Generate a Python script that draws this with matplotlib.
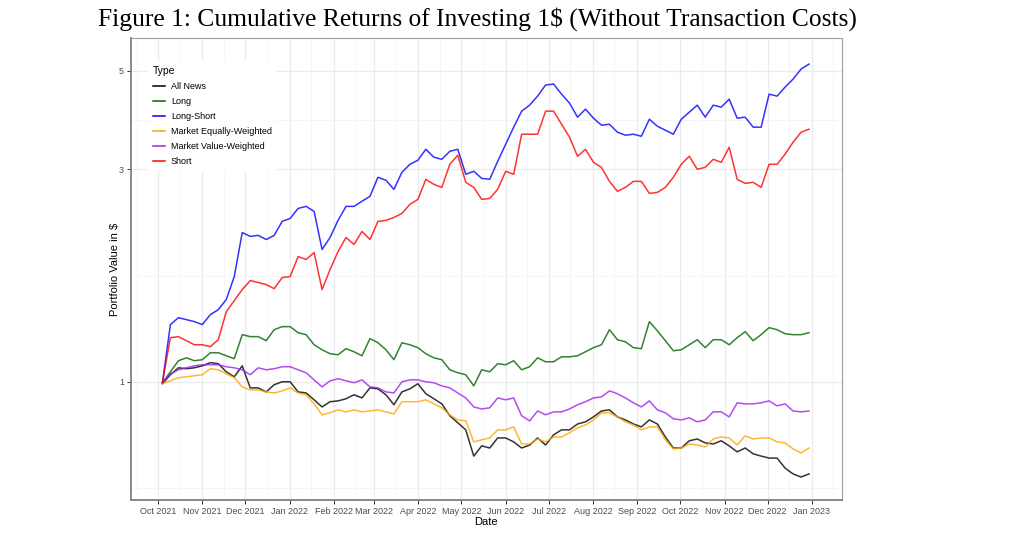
import matplotlib
matplotlib.use("Agg")
import matplotlib.pyplot as plt
import matplotlib.dates as mdates
import pandas as pd
import numpy as np

# dates of the sampled points (read every ~8 px along the x axis)
dates = pd.date_range("2021-10-04", "2022-12-30", periods=82)

all_news = [
    0.990, 1.037, 1.075, 1.070, 1.075, 1.086, 1.104, 1.098, 1.053, 1.026,
    1.086, 0.969, 0.969, 0.949, 0.985, 1.000, 1.000, 0.949, 0.944, 0.911,
    0.878, 0.902, 0.906, 0.916, 0.935, 0.920, 0.969, 0.964, 0.935, 0.888,
    0.949, 0.964, 0.990, 0.940, 0.916, 0.892, 0.839, 0.809, 0.780, 0.681,
    0.718, 0.710, 0.748, 0.748, 0.733, 0.710, 0.721, 0.748, 0.721, 0.760,
    0.780, 0.780, 0.804, 0.813, 0.834, 0.860, 0.865, 0.834, 0.821, 0.804,
    0.792, 0.821, 0.804, 0.752, 0.710, 0.710, 0.737, 0.744, 0.729, 0.725,
    0.737, 0.718, 0.696, 0.710, 0.689, 0.681, 0.674, 0.674, 0.640, 0.621,
    0.611, 0.621,
]
long_ = [
    0.995, 1.053, 1.115, 1.132, 1.115, 1.121, 1.162, 1.162, 1.144, 1.127,
    1.276, 1.263, 1.263, 1.237, 1.309, 1.330, 1.330, 1.289, 1.276, 1.211,
    1.180, 1.156, 1.150, 1.187, 1.168, 1.144, 1.250, 1.224, 1.180, 1.121,
    1.224, 1.211, 1.193, 1.156, 1.132, 1.121, 1.064, 1.048, 1.037, 0.979,
    1.064, 1.053, 1.098, 1.092, 1.115, 1.064, 1.081, 1.132, 1.109, 1.109,
    1.138, 1.138, 1.144, 1.168, 1.193, 1.211, 1.309, 1.243, 1.230, 1.193,
    1.187, 1.365, 1.302, 1.237, 1.174, 1.180, 1.211, 1.243, 1.193, 1.243,
    1.243, 1.211, 1.256, 1.296, 1.237, 1.276, 1.323, 1.309, 1.282, 1.276,
    1.276, 1.289,
]
long_short = [
    0.995, 1.344, 1.393, 1.379, 1.365, 1.344, 1.415, 1.452, 1.530, 1.723,
    2.164, 2.121, 2.132, 2.087, 2.132, 2.292, 2.327, 2.451, 2.477, 2.414,
    1.982, 2.109, 2.304, 2.477, 2.477, 2.543, 2.609, 2.879, 2.835, 2.705,
    2.954, 3.079, 3.144, 3.328, 3.194, 3.160, 3.293, 3.328, 2.924, 2.970,
    2.863, 2.849, 3.127, 3.415, 3.731, 4.053, 4.181, 4.381, 4.639, 4.663,
    4.426, 4.224, 3.929, 4.095, 3.908, 3.769, 3.788, 3.635, 3.579, 3.597,
    3.560, 3.888, 3.749, 3.673, 3.597, 3.888, 4.032, 4.181, 3.929, 4.181,
    4.138, 4.313, 3.908, 3.929, 3.731, 3.731, 4.426, 4.381, 4.589, 4.783,
    5.037, 5.170,
]
market_equal = [
    0.990, 1.005, 1.021, 1.026, 1.032, 1.037, 1.070, 1.064, 1.042, 1.021,
    0.974, 0.959, 0.959, 0.949, 0.944, 0.954, 0.969, 0.944, 0.935, 0.892,
    0.843, 0.852, 0.865, 0.856, 0.865, 0.856, 0.860, 0.865, 0.856, 0.847,
    0.902, 0.902, 0.902, 0.911, 0.892, 0.874, 0.843, 0.821, 0.817, 0.733,
    0.741, 0.748, 0.780, 0.780, 0.792, 0.725, 0.725, 0.744, 0.733, 0.752,
    0.752, 0.768, 0.788, 0.800, 0.821, 0.852, 0.852, 0.834, 0.813, 0.800,
    0.780, 0.792, 0.792, 0.741, 0.707, 0.710, 0.725, 0.721, 0.714, 0.744,
    0.752, 0.748, 0.721, 0.756, 0.744, 0.748, 0.748, 0.733, 0.729, 0.707,
    0.692, 0.710,
]
market_value = [
    0.995, 1.042, 1.064, 1.075, 1.086, 1.092, 1.092, 1.092, 1.081, 1.075,
    1.064, 1.037, 1.075, 1.064, 1.070, 1.081, 1.081, 1.064, 1.048, 1.010,
    0.974, 1.005, 1.016, 1.005, 0.995, 1.010, 0.974, 0.969, 0.949, 0.944,
    1.000, 1.010, 1.010, 1.000, 0.995, 0.979, 0.969, 0.944, 0.920, 0.878,
    0.869, 0.874, 0.920, 0.911, 0.920, 0.839, 0.817, 0.860, 0.843, 0.856,
    0.856, 0.869, 0.888, 0.902, 0.920, 0.925, 0.954, 0.940, 0.920, 0.897,
    0.878, 0.906, 0.865, 0.852, 0.826, 0.821, 0.830, 0.813, 0.821, 0.856,
    0.856, 0.834, 0.897, 0.892, 0.892, 0.897, 0.906, 0.883, 0.892, 0.860,
    0.856, 0.860,
]
short = [
    0.995, 1.256, 1.263, 1.237, 1.211, 1.211, 1.199, 1.243, 1.437, 1.521,
    1.611, 1.688, 1.671, 1.653, 1.619, 1.714, 1.723, 1.911, 1.882, 1.951,
    1.611, 1.787, 1.961, 2.109, 2.034, 2.176, 2.087, 2.292, 2.304, 2.339,
    2.388, 2.503, 2.568, 2.849, 2.776, 2.733, 3.079, 3.227, 2.805, 2.733,
    2.568, 2.581, 2.705, 2.970, 2.924, 3.597, 3.597, 3.597, 4.053, 4.053,
    3.788, 3.542, 3.210, 3.328, 3.111, 3.031, 2.819, 2.677, 2.733, 2.819,
    2.819, 2.649, 2.663, 2.733, 2.879, 3.079, 3.210, 3.000, 3.031, 3.160,
    3.111, 3.363, 2.849, 2.790, 2.805, 2.733, 3.079, 3.079, 3.244, 3.451,
    3.635, 3.692,
]

type_names = ["All News", "Long", "Long-Short", "Market Equally-Weighted",
              "Market Value-Weighted", "Short"]
type_colors = ["#000000", "#006400", "#0000FF", "#FFA500", "#A020F0", "#FF0000"]
y_breaks = [1, 3, 5]


def plotData():
    series = [all_news, long_, long_short, market_equal, market_value, short]

    fig = plt.figure(figsize=(10.23, 5.55), dpi=100)
    ax = fig.add_axes([0.128, 0.099, 0.695, 0.8325])

    for name, col, vals in zip(type_names, type_colors, series):
        ax.plot(dates, vals, color=col, alpha=0.8, lw=1.1, label=name)

    ax.set_yscale("log")
    ax.set_ylim(0.5425, 5.916)
    ax.set_yticks(y_breaks)
    ax.set_yticklabels([str(b) for b in y_breaks])
    # ggplot style minor breaks: half way between majors in log space
    ax.set_yticks([1 / np.sqrt(3), np.sqrt(3), np.sqrt(15)], minor=True)
    ax.yaxis.set_minor_formatter(matplotlib.ticker.NullFormatter())

    ax.set_xlim(pd.Timestamp("2021-09-12"), pd.Timestamp("2023-01-22"))
    ax.xaxis.set_major_locator(mdates.MonthLocator())
    ax.xaxis.set_major_formatter(mdates.DateFormatter("%b %Y"))
    ax.xaxis.set_minor_locator(mdates.MonthLocator(bymonthday=16))

    ax.grid(which="major", color="#EBEBEB", lw=0.9)
    ax.grid(which="minor", color="#F4F4F4", lw=0.6)
    ax.set_axisbelow(True)
    ax.tick_params(which="minor", length=0)
    ax.tick_params(which="major", length=3, width=0.7, color="#333333",
                   labelsize=6.5, labelcolor="#4D4D4D", pad=2)
    for lab in ax.get_xticklabels() + ax.get_yticklabels():
        lab.set_family("Liberation Sans")

    for side in ["top", "right"]:
        ax.spines[side].set_color("#A0A0A0")
        ax.spines[side].set_linewidth(0.8)
    for side in ["left", "bottom"]:
        ax.spines[side].set_color("#808080")
        ax.spines[side].set_linewidth(1.3)

    ax.set_xlabel("Date", family="Liberation Sans", fontsize=8, labelpad=1)
    ax.set_ylabel("Portfolio Value in $", family="Liberation Sans", fontsize=8,
                  labelpad=-1)

    leg = ax.legend(loc="upper left", bbox_to_anchor=(0.018, 0.96),
                    title="Type", frameon=True, fancybox=False,
                    prop={"family": "Liberation Sans", "size": 6.5},
                    handlelength=1.3, handletextpad=0.7, labelspacing=0.68,
                    borderpad=0.5, alignment="left")
    leg.get_frame().set_edgecolor("white")
    leg.get_frame().set_linewidth(0)
    leg.get_frame().set_alpha(1)
    leg.get_title().set_family("Liberation Sans")
    leg.get_title().set_fontsize(7.5)
    for line in leg.get_lines():
        line.set_alpha(1)
        line.set_linewidth(1.1)

    fig.text(0.467, 0.966,
             "Figure 1: Cumulative Returns of Investing 1$ (Without Transaction Costs)",
             ha="center", va="center", family="Liberation Serif", fontsize=18.4)

    fig.savefig("out.png", dpi=100)


def main():
    plotData()


if __name__ == '__main__':
    main()
